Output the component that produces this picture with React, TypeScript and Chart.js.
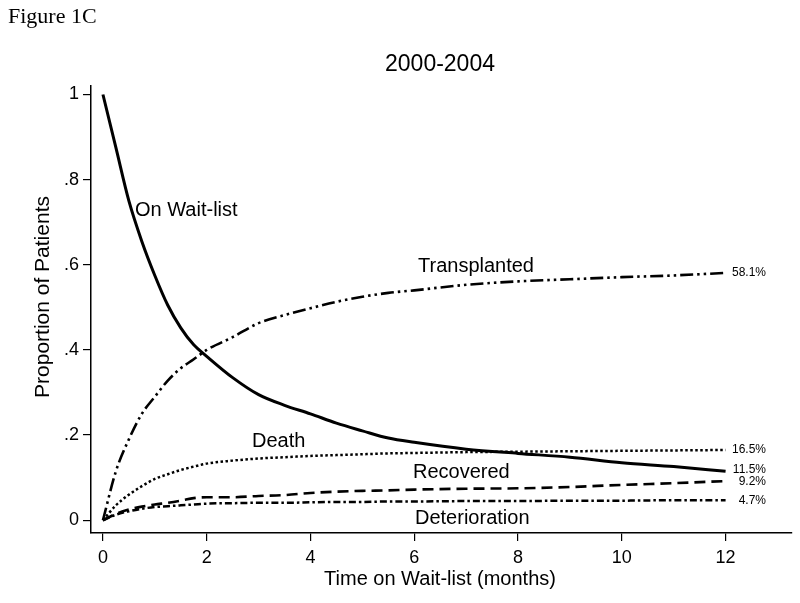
import React, { useEffect, useRef } from "react";
import { Chart, registerables } from "chart.js";

Chart.register(...registerables);

const months = [0, 0.25, 0.5, 0.75, 1, 1.25, 1.5, 1.75, 2, 2.5, 3, 3.5, 4, 4.5, 5, 5.5, 6, 7, 8, 9, 10, 11, 12];
const waitList = [1.0, 0.875, 0.75, 0.655, 0.575, 0.505, 0.452, 0.412, 0.385, 0.335, 0.295, 0.27, 0.25, 0.228, 0.21, 0.193, 0.183, 0.167, 0.157, 0.148, 0.135, 0.126, 0.115];
const transplanted = [0, 0.115, 0.19, 0.25, 0.29, 0.328, 0.357, 0.378, 0.4, 0.43, 0.463, 0.482, 0.498, 0.513, 0.525, 0.534, 0.54, 0.553, 0.561, 0.566, 0.571, 0.575, 0.581];
const death = [0, 0.035, 0.06, 0.08, 0.097, 0.108, 0.118, 0.126, 0.133, 0.14, 0.145, 0.148, 0.151, 0.153, 0.155, 0.157, 0.158, 0.16, 0.161, 0.162, 0.163, 0.164, 0.165];
const recovered = [0, 0.015, 0.025, 0.032, 0.037, 0.041, 0.046, 0.052, 0.054, 0.054, 0.057, 0.059, 0.064, 0.067, 0.069, 0.07, 0.072, 0.074, 0.075, 0.078, 0.083, 0.087, 0.092];
const deterioration = [0, 0.013, 0.021, 0.027, 0.031, 0.033, 0.035, 0.037, 0.039, 0.04, 0.041, 0.041, 0.042, 0.043, 0.043, 0.044, 0.044, 0.045, 0.045, 0.046, 0.046, 0.047, 0.047];

const xTicks = [0, 2, 4, 6, 8, 10, 12];
const yTicks = [0, 0.2, 0.4, 0.6, 0.8, 1];
const yTickLabels = ["0", ".2", ".4", ".6", ".8", "1"];

const endLabels = ["58.1%", "16.5%", "11.5%", "9.2%", "4.7%"];
const endValues = [0.581, 0.165, 0.115, 0.092, 0.047];

const curveNames = ["On Wait-list", "Transplanted", "Death", "Recovered", "Deterioration"];

const SANS = "'Liberation Sans', Arial, sans-serif";

const toPts = (arr: number[]) => months.map((m, i) => ({ x: m, y: arr[i] }));

const textPlugin = {
  id: "texts",
  afterDraw(chart: any) {
    const ctx = chart.ctx;
    const ys = chart.scales.y;
    ctx.save();
    ctx.fillStyle = "#000";
    // Figure label
    ctx.font = "22px 'Liberation Serif', 'Times New Roman', serif";
    ctx.textAlign = "left";
    ctx.textBaseline = "alphabetic";
    ctx.fillText("Figure 1C", 8, 23);
    // Title
    ctx.font = `23px ${SANS}`;
    ctx.textAlign = "center";
    ctx.textBaseline = "middle";
    ctx.fillText("2000-2004", 440, 65);
    // axis titles
    ctx.font = `20px ${SANS}`;
    ctx.fillText("Time on Wait-list (months)", 440, 579);
    ctx.save();
    ctx.translate(43, 297);
    ctx.rotate(-Math.PI / 2);
    ctx.font = `21px ${SANS}`;
    ctx.fillText("Proportion of Patients", 0, 0);
    ctx.restore();
    // curve labels
    ctx.font = `20px ${SANS}`;
    ctx.textAlign = "left";
    const pos: [number, number][] = [
      [135, 210],
      [418, 266],
      [252, 441],
      [413, 472],
      [415, 518],
    ];
    curveNames.forEach((n, i) => ctx.fillText(n, pos[i][0], pos[i][1]));
    // end labels
    ctx.font = `12px ${SANS}`;
    ctx.textAlign = "right";
    const offsets = [0, 0, -2, 1, 0];
    endLabels.forEach((l, i) => {
      ctx.fillText(l, 766, ys.getPixelForValue(endValues[i]) + offsets[i]);
    });
    ctx.restore();
  },
};

export default function App() {
  const ref = useRef<HTMLCanvasElement | null>(null);
  useEffect(() => {
    document.body.style.margin = "0";
    const base = {
      borderColor: "#000",
      pointRadius: 0,
      fill: false,
      cubicInterpolationMode: "monotone" as const,
      borderCapStyle: "butt" as const,
    };
    const chart = new Chart(ref.current as HTMLCanvasElement, {
      type: "line",
      data: {
        datasets: [
          { ...base, label: "On Wait-list", data: toPts(waitList), borderWidth: 3 },
          { ...base, label: "Transplanted", data: toPts(transplanted), borderWidth: 2.6, borderDash: [13, 4, 2.5, 4, 2.5, 4] },
          { ...base, label: "Death", data: toPts(death), borderWidth: 2.5, borderDash: [2.5, 2.5] },
          { ...base, label: "Recovered", data: toPts(recovered), borderWidth: 2.6, borderDash: [11, 6] },
          { ...base, label: "Deterioration", data: toPts(deterioration), borderWidth: 2.5, borderDash: [7, 3, 2.5, 3] },
        ],
      },
      options: {
        responsive: false,
        animation: false,
        devicePixelRatio: 1,
        layout: { padding: { top: 86, right: 8, left: 0, bottom: 0 } },
        plugins: { legend: { display: false }, tooltip: { enabled: false }, title: { display: false } },
        scales: {
          x: {
            type: "linear",
            min: -0.23,
            max: 13.28,
            afterBuildTicks: (s: any) => {
              s.ticks = xTicks.map((v) => ({ value: v }));
            },
            afterFit: (s: any) => {
              s.height = 70;
            },
            border: { display: true, color: "#000", width: 1.5 },
            grid: { display: true, drawOnChartArea: false, drawTicks: true, tickLength: 8, color: "#000", lineWidth: 1.2 },
            ticks: {
              color: "#000",
              font: { family: SANS, size: 18 },
              padding: 6,
              maxRotation: 0,
              autoSkip: false,
              callback: (v: any) => String(v),
            },
          },
          y: {
            type: "linear",
            min: -0.03,
            max: 1.02,
            afterBuildTicks: (s: any) => {
              s.ticks = yTicks.map((v) => ({ value: v }));
            },
            afterFit: (s: any) => {
              s.width = 91;
            },
            border: { display: true, color: "#000", width: 1.5 },
            grid: { display: true, drawOnChartArea: false, drawTicks: true, tickLength: 8, color: "#000", lineWidth: 1.2 },
            ticks: {
              color: "#000",
              font: { family: SANS, size: 18 },
              padding: 4,
              autoSkip: false,
              callback: (v: any) => {
                const i = yTicks.findIndex((t) => Math.abs(t - Number(v)) < 1e-6);
                return i >= 0 ? yTickLabels[i] : "";
              },
            },
          },
        },
      },
      plugins: [textPlugin],
    });
    return () => chart.destroy();
  }, []);
  return (
    <div style={{ position: "fixed", left: 0, top: 0, width: 800, height: 603, background: "#fff" }}>
      <canvas ref={ref} width={800} height={603} />
    </div>
  );
}
